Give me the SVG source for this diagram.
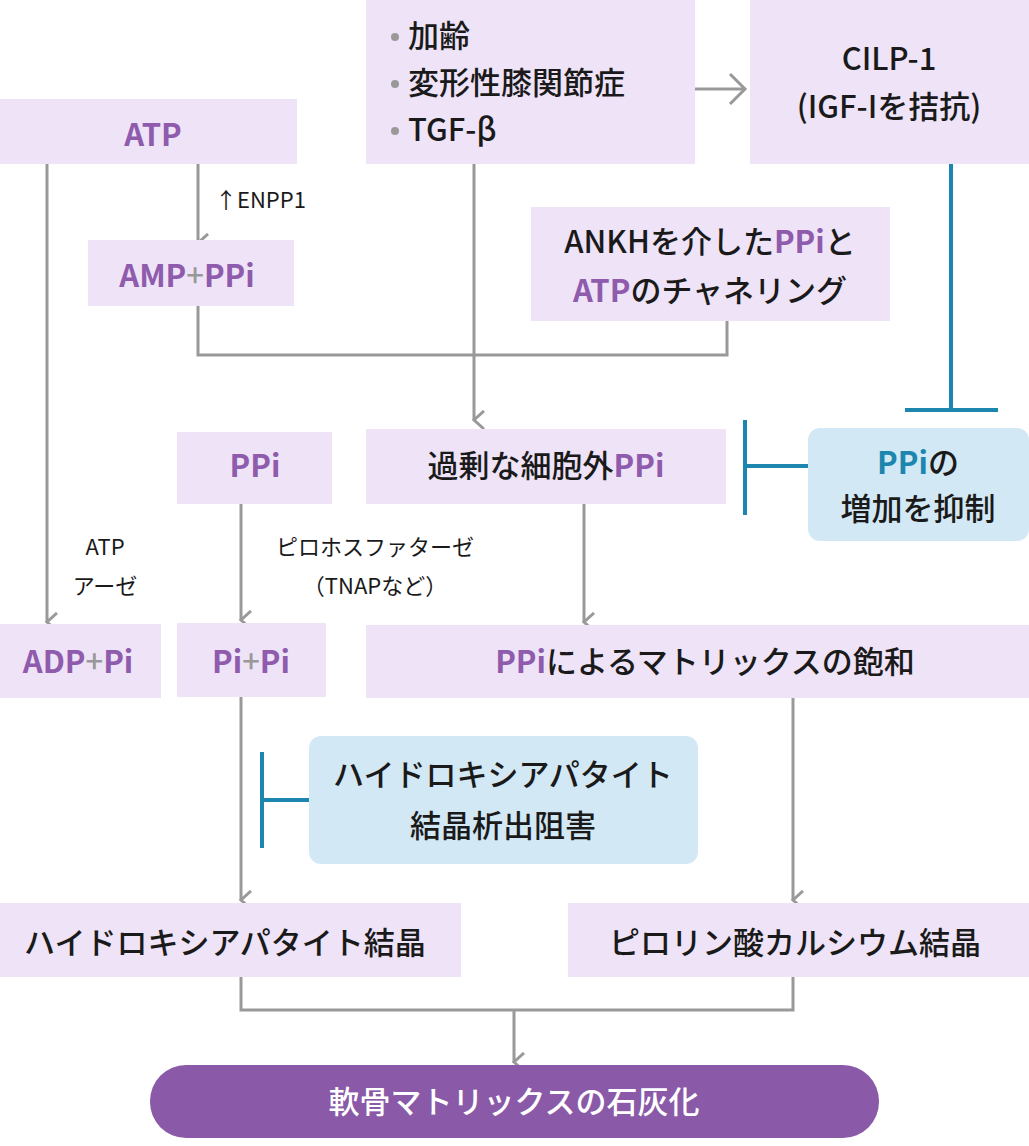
<svg xmlns="http://www.w3.org/2000/svg" width="1029" height="1146" viewBox="0 0 1029 1146">
<style>
text{font-family:"Noto Sans CJK JP","Noto Sans",sans-serif;}
.b{fill:#EEE3F7}.bl{fill:#D3E8F5}
.t{font-size:31px;fill:#1a1a1a;text-anchor:middle;font-weight:500}
.p{fill:#8E5BAD;font-weight:700}
.g{fill:#999}
.s{font-size:22px;fill:#1a1a1a;text-anchor:middle}
.c{fill:none;stroke:#999;stroke-width:3}
.x{fill:none;stroke:#1C86AE;stroke-width:4}
.bt{fill:#1C86AE;font-weight:700}
</style>
<defs><marker id="a" viewBox="0 0 20 20" refX="10" refY="14" markerWidth="20" markerHeight="20" markerUnits="userSpaceOnUse" orient="auto"><path d="M1,4 L10,14 L19,4" fill="none" stroke="#999" stroke-width="3"/></marker></defs>
<g id="connectors">
<path class="c" d="M47,164V622" marker-end="url(#a)"/>
<path class="c" d="M198,164V243" marker-end="url(#a)"/>
<path class="c" d="M198,306V355H727V321"/>
<path class="c" d="M474,164V420" marker-end="url(#a)"/>
<path class="c" d="M695,89H745" transform="rotate(0)"/>
<path class="c" d="M730,74L745,89L730,104"/>
<path class="c" d="M241,504V620" marker-end="url(#a)"/>
<path class="c" d="M584,504V622" marker-end="url(#a)"/>
<path class="c" d="M241,697V900" marker-end="url(#a)"/>
<path class="c" d="M793,698V900" marker-end="url(#a)"/>
<path class="c" d="M241,977V1010H793V977M514,1010V1062" marker-end="url(#a)"/>
<path class="x" d="M951,164V410M905,410H998"/>
<path class="x" d="M808,466H745M745,420V515"/>
<path class="x" d="M309,800H262M262,752V848"/>
</g>
<text x="215" y="208" font-size="22" fill="#1a1a1a">↑ENPP1</text>
<text class="s" x="105" y="555">ATP</text><text class="s" x="105" y="594">アーゼ</text>
<text class="s" x="375" y="555">ピロホスファターゼ</text><text class="s" x="375" y="594">（TNAPなど）</text>
<g id="atp"><rect class="b" x="0" y="99" width="297" height="65"/><text class="t p" x="153" y="146">ATP</text></g>
<g id="amp"><rect class="b" x="88" y="240" width="206" height="66"/><text class="t" x="187" y="287"><tspan class="p">AMP</tspan><tspan class="g">+</tspan><tspan class="p">PPi</tspan></text></g>
<g id="causes"><rect class="b" x="366" y="0" width="329" height="164"/>
<circle cx="395" cy="37" r="4" fill="#999"/><circle cx="395" cy="84" r="4" fill="#999"/><circle cx="395" cy="131" r="4" fill="#999"/>
<text x="408" y="47" font-size="31" font-weight="500" fill="#1a1a1a">加齢</text>
<text x="408" y="94" font-size="31" font-weight="500" fill="#1a1a1a">変形性膝関節症</text>
<text x="408" y="141" font-size="31" font-weight="500" fill="#1a1a1a">TGF-β</text></g>
<g id="cilp"><rect class="b" x="750" y="0" width="279" height="164"/><text class="t" x="889" y="70">CILP-1</text><text class="t" x="889" y="118">(IGF-Iを拮抗)</text></g>
<g id="ankh"><rect class="b" x="531" y="207" width="359" height="114"/><text class="t" x="710" y="253">ANKHを介した<tspan class="p">PPi</tspan>と</text><text class="t" x="710" y="302"><tspan class="p">ATP</tspan>のチャネリング</text></g>
<g id="ppi"><rect class="b" x="177" y="432" width="155" height="72"/><text class="t p" x="255" y="477">PPi</text></g>
<g id="excess"><rect class="b" x="366" y="429" width="360" height="75"/><text class="t" x="546" y="477">過剰な細胞外<tspan class="p">PPi</tspan></text></g>
<g id="inhibit1"><rect class="bl" x="808" y="428" width="221" height="113" rx="12"/><text class="t" x="918" y="474"><tspan class="bt">PPi</tspan>の</text><text class="t" x="918" y="520">増加を抑制</text></g>
<g id="adp"><rect class="b" x="0" y="624" width="161" height="74"/><text class="t" x="78" y="673"><tspan class="p">ADP</tspan><tspan class="g">+</tspan><tspan class="p">Pi</tspan></text></g>
<g id="pipi"><rect class="b" x="177" y="623" width="149" height="74"/><text class="t" x="251" y="673"><tspan class="p">Pi</tspan><tspan class="g">+</tspan><tspan class="p">Pi</tspan></text></g>
<g id="saturation"><rect class="b" x="366" y="625" width="663" height="73"/><text class="t" x="705" y="673"><tspan class="p">PPi</tspan>によるマトリックスの飽和</text></g>
<g id="inhibit2"><rect class="bl" x="309" y="736" width="389" height="128" rx="12"/><text class="t" x="503" y="786">ハイドロキシアパタイト</text><text class="t" x="503" y="837">結晶析出阻害</text></g>
<g id="ha"><rect class="b" x="0" y="903" width="461" height="74"/><text class="t" x="225" y="954">ハイドロキシアパタイト結晶</text></g>
<g id="cppd"><rect class="b" x="568" y="903" width="461" height="74"/><text class="t" x="795" y="954">ピロリン酸カルシウム結晶</text></g>
<g id="calc"><rect x="150" y="1065" width="729" height="73" rx="36" fill="#8A5AA8"/><text class="t" x="514" y="1113" fill="#fff" font-weight="700" style="fill:#fff">軟骨マトリックスの石灰化</text></g>
</svg>
